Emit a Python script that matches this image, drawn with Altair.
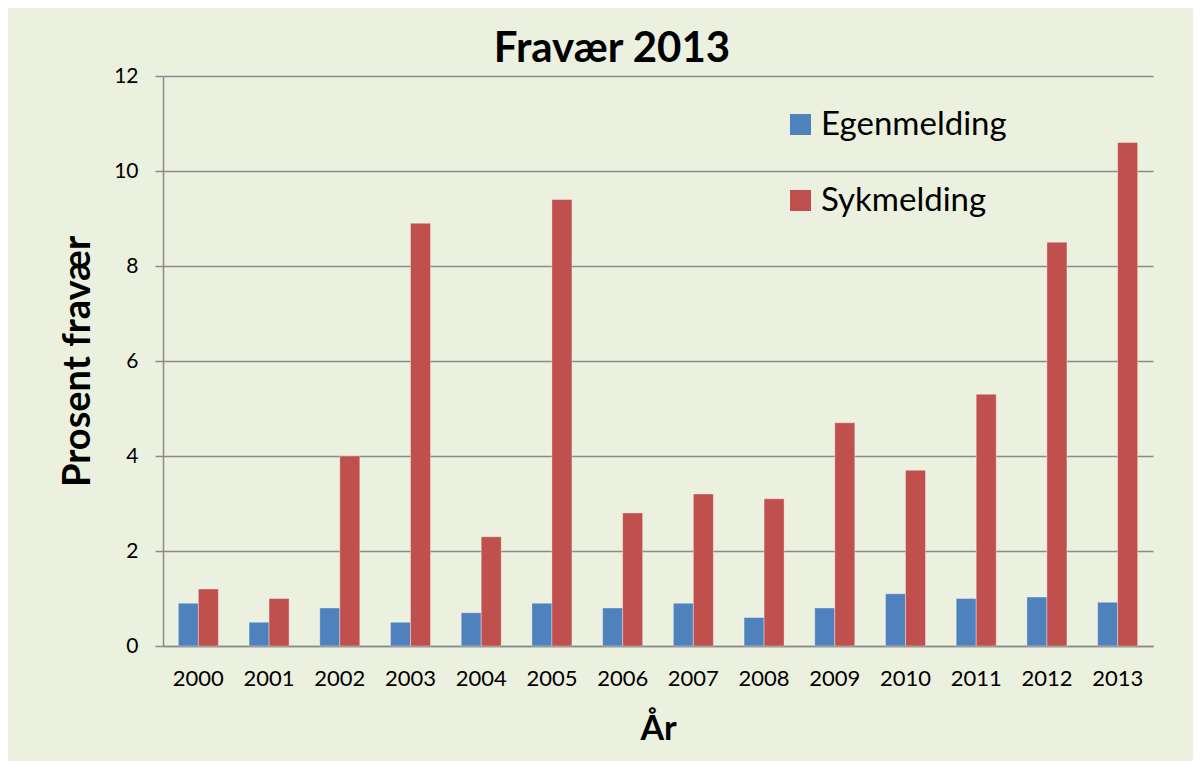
import altair as alt
import pandas as pd

# ---- data ----
years = ["2000", "2001", "2002", "2003", "2004", "2005", "2006",
         "2007", "2008", "2009", "2010", "2011", "2012", "2013"]
egenmelding = [0.9, 0.5, 0.8, 0.5, 0.7, 0.9, 0.8, 0.9, 0.6, 0.8, 1.1, 1.0, 1.03, 0.92]
sykmelding = [1.2, 1.0, 4.0, 8.9, 2.3, 9.4, 2.8, 3.2, 3.1, 4.7, 3.7, 5.3, 8.5, 10.6]
series = ["Egenmelding", "Sykmelding"]
colors = ["#4F81BD", "#C0504D"]
y_ticks = [0, 2, 4, 6, 8, 10, 12]

rows = []
for i, yr in enumerate(years):
    rows.append({"År": yr, "Type": series[0], "Verdi": egenmelding[i]})
    rows.append({"År": yr, "Type": series[1], "Verdi": sykmelding[i]})
df = pd.DataFrame(rows)

FONT = "Lato"
GRID = "#8A8A8A"

chart = (
    alt.Chart(df)
    .mark_bar(stroke="#FFFFFF", strokeOpacity=0.35, strokeWidth=1)
    .encode(
        x=alt.X(
            "År:N",
            sort=years,
            scale=alt.Scale(paddingInner=0.434, paddingOuter=0.217),
            axis=alt.Axis(
                title="År",
                labelAngle=0,
                labelFontSize=22,
                labelPadding=22,
                ticks=False,
                domainColor=GRID,
                domainWidth=1.5,
                titleFontSize=34,
                titleFontWeight="bold",
                titlePadding=23,
                labelColor="#000000",
                titleColor="#000000",
            ),
        ),
        xOffset=alt.XOffset("Type:N", sort=series),
        y=alt.Y(
            "Verdi:Q",
            scale=alt.Scale(domain=[0, 12], nice=False),
            axis=alt.Axis(
                title="Prosent fravær",
                values=y_ticks,
                labelFontSize=21,
                labelPadding=17,
                tickSize=8,
                tickColor=GRID,
                tickWidth=1.5,
                domainColor=GRID,
                domainWidth=1.5,
                gridColor=GRID,
                gridWidth=1.5,
                titleFontSize=38,
                titleFontWeight="bold",
                titlePadding=16,
                labelColor="#000000",
                titleColor="#000000",
            ),
        ),
        color=alt.Color(
            "Type:N",
            scale=alt.Scale(domain=series, range=colors),
            legend=alt.Legend(
                title=None,
                orient="none",
                legendX=621,
                legendY=32,
                symbolType="square",
                symbolSize=441,
                symbolStrokeWidth=0,
                symbolOpacity=1,
                labelFontSize=33,
                labelOffset=4,
                labelLimit=0,
                labelColor="#000000",
                rowPadding=42,
                padding=0,
            ),
        ),
    )
    .properties(
        width=990,
        height=570,
        autosize=alt.AutoSizeParams(type="none"),
        padding={"left": 155, "top": 68, "right": 40, "bottom": 115},
        background="#EBF1DE",
        title=alt.TitleParams(
            text="Fravær 2013",
            fontSize=42,
            fontWeight="bold",
            font=FONT,
            color="#000000",
            anchor="middle",
            dx=-46,
            dy=16,
            offset=10,
        ),
    )
    .configure(font=FONT)
    .configure_view(stroke=None)
)

chart.save("out.html", embed_options={"renderer": "svg", "actions": False})
